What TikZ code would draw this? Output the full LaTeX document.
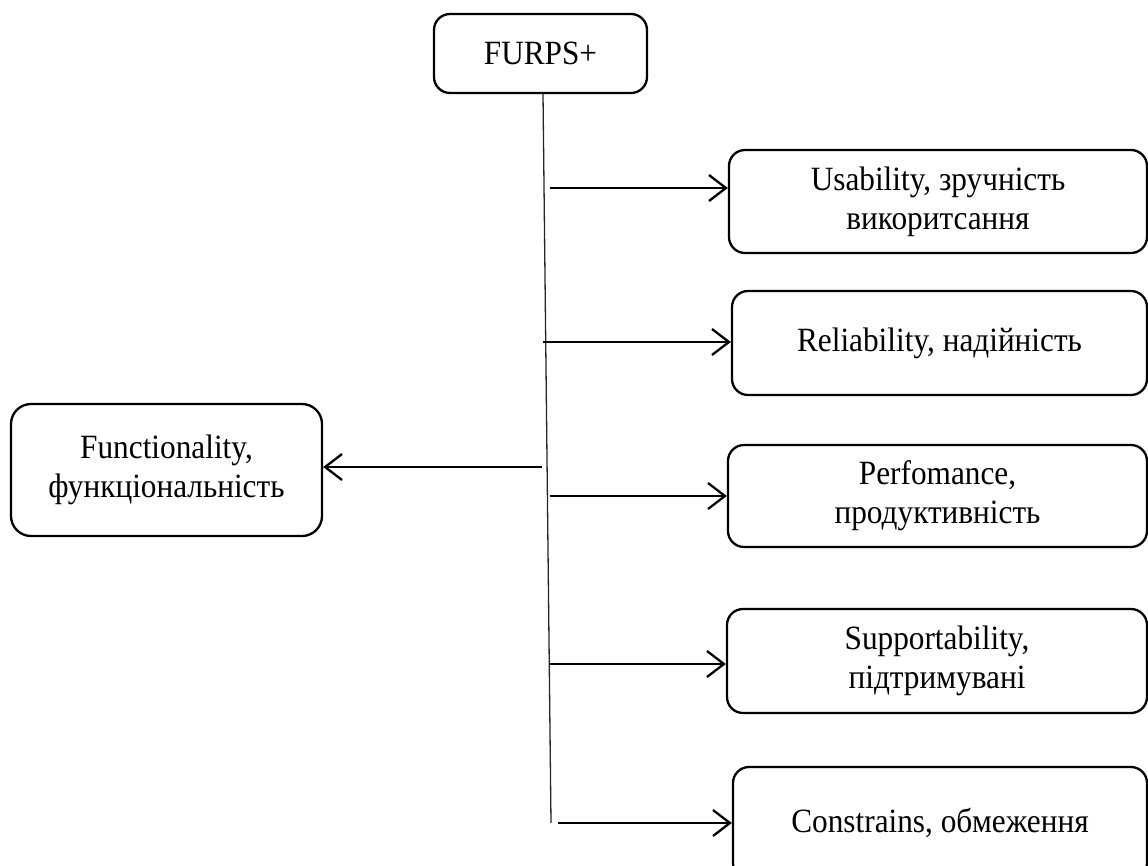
\documentclass[tikz,border=0pt]{standalone}
\usepackage{fontspec}
\setmainfont[FakeStretch=0.92]{Liberation Serif}
\usetikzlibrary{arrows.meta}
\begin{document}
\begin{tikzpicture}[x=1pt,y=-1pt,
  box/.style={draw,line width=2.3pt,rounded corners=16pt,align=center,inner sep=0pt,
    font=\fontsize{34}{39}\selectfont},
  arr/.style={line width=2.3pt,-{Straight Barb[length=17pt,width=26pt,line width=2.3pt]}},
  trunk/.style={line width=1.3pt,draw=black!85}]
\useasboundingbox (0,0) rectangle (1148,865);
\node[box,minimum width=213pt,minimum height=79pt] (furps) at (540.5,53.5) {FURPS+};
\node[box,minimum width=418pt,minimum height=103pt] (usab) at (938,201.5) {Usability, зручність\\викоритсання};
\node[box,minimum width=415pt,minimum height=104pt] (rel) at (939.5,343) {Reliability, надійність};
\node[box,minimum width=311pt,minimum height=132pt,rounded corners=20pt] (func) at (166.5,470) {Functionality,\\функціональність};
\node[box,minimum width=419pt,minimum height=102pt] (perf) at (937.5,496) {Perfomance,\\продуктивність};
\node[box,minimum width=420pt,minimum height=104pt] (supp) at (937,661) {Supportability,\\підтримувані};
\node[box,minimum width=414pt,minimum height=112pt] (cons) at (940,823) {Constrains, обмеження};
\coordinate (tb) at (551,823);
\draw[trunk] ([xshift=2.5pt]furps.south) -- (tb);
\coordinate (s1) at (550,188);
\coordinate (s2) at (543,342);
\coordinate (s3) at (542,467);
\coordinate (s4) at (550,496);
\coordinate (s5) at (550,664);
\coordinate (s6) at (558,823);
\draw[arr] (s1) -- (s1 -| usab.west);
\draw[arr] (s2) -- (s2 -| rel.west);
\draw[arr] (s3) -- (s3 -| func.east);
\draw[arr] (s4) -- (s4 -| perf.west);
\draw[arr] (s5) -- (s5 -| supp.west);
\draw[arr] (s6) -- (s6 -| cons.west);
\end{tikzpicture}
\end{document}
